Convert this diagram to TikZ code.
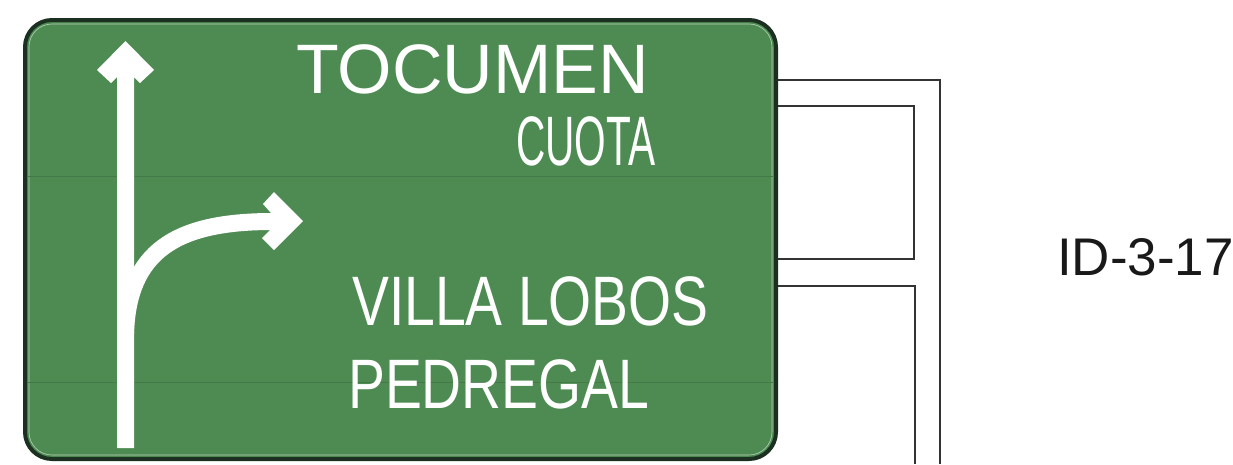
\documentclass[tikz,border=0pt]{standalone}
\usepackage{fontspec}
\setmainfont{Liberation Sans}
\usepackage{xcolor}
\usetikzlibrary{positioning,calc}
\definecolor{signgreen}{RGB}{78,139,82}
\definecolor{signedge}{RGB}{28,48,34}

\begin{document}
\begin{tikzpicture}[x=1pt, y=-1pt,
  legend/.style={white, inner sep=0pt, anchor=base west, font=\fontsize{70}{70}\selectfont},
  post/.style={black!80, line width=1.4pt},
  pictogram/.style={fill=white, draw=none}]
  \useasboundingbox (0,0) rectangle (1233,464);

  % Panel
  \draw[signedge, line width=4pt, fill=signgreen, rounded corners=27pt] (25,20) rectangle (776,459);
  \draw[white!60!signgreen, line width=0.6pt, rounded corners=23pt] (29,24) rectangle (772,455);
  \draw[signgreen!88!black, line width=0.4pt] (28,176) -- (773,176);
  \draw[signgreen!88!black, line width=0.4pt] (28,382) -- (773,382);

  % Support frame
  \draw[post] (778,80) -- (940,80) -- (940,464);
  \draw[post] (778,106) -- (914,106) -- (914,259) -- (778,259);
  \draw[post] (778,286) -- (915,286) -- (915,464);

  % Straight-ahead arrow
  \fill[pictogram] (125.5,41) -- (154,70) -- (140,83) -- (134,77) -- (134,448)
    -- (117,448) -- (117,77) -- (111,83) -- (97,70) -- cycle;

  % Exit arrow
  \draw[white, line width=17pt] (125.5,334) .. controls (128,252) and (175,221.5) .. (272,221.5);
  \fill[pictogram] (303,221) -- (274,250) -- (262,238) -- (271,229) -- (271,213)
    -- (263,204) -- (274,192) -- cycle;

  % Legends
  \node[legend] (tocumen) at (296,93) {TOCUMEN};
  \node[legend, xscale=0.58] (cuota) at (516,165) {CUOTA};
  \node[legend, xscale=0.79] (villa) at (352,325) {VILLA LOBOS};
  \node[legend, xscale=0.79] (pedregal) at (348,408) {PEDREGAL};

  % Code
  \node[black!90, inner sep=0pt, anchor=base west, font=\fontsize{53}{53}\selectfont] (code) at (1057,275) {ID-3-17};
\end{tikzpicture}
\end{document}
